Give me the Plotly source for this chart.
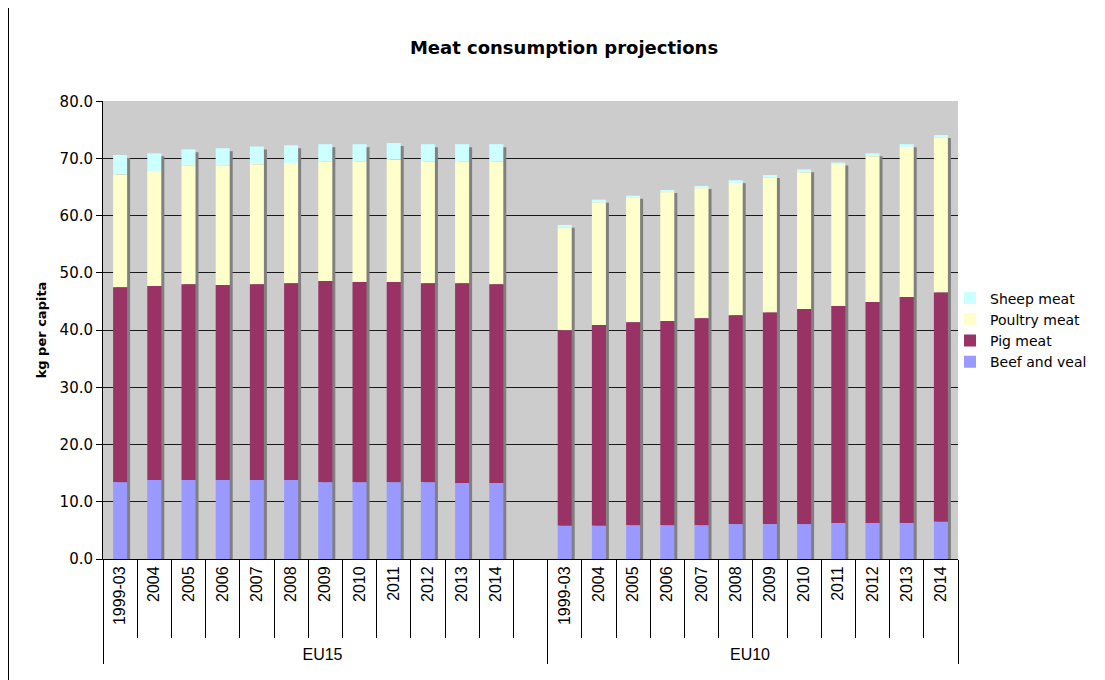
import plotly.graph_objects as go

years = ["1999-03", "2004", "2005", "2006", "2007", "2008",
         "2009", "2010", "2011", "2012", "2013", "2014"]
regions = ["EU15", "EU10"]
series_names = ["Beef and veal", "Pig meat", "Poultry meat", "Sheep meat"]

eu15_beef = [13.4, 13.8, 13.8, 13.8, 13.8, 13.8, 13.4, 13.4, 13.4, 13.4, 13.3, 13.3]
eu15_pig = [34.1, 33.9, 34.2, 34.1, 34.2, 34.4, 35.2, 35.0, 35.0, 34.8, 34.9, 34.7]
eu15_poultry = [19.7, 20.1, 20.7, 20.8, 21.0, 21.0, 20.9, 21.1, 21.4, 21.3, 21.3, 21.5]
eu15_sheep = [3.4, 3.1, 2.9, 3.1, 3.1, 3.1, 3.0, 3.0, 2.9, 3.0, 3.0, 3.0]

eu10_beef = [5.8, 5.8, 5.9, 5.9, 5.9, 6.1, 6.1, 6.1, 6.3, 6.3, 6.3, 6.5]
eu10_pig = [34.2, 35.1, 35.5, 35.7, 36.2, 36.5, 37.0, 37.6, 37.9, 38.6, 39.5, 40.1]
eu10_poultry = [17.9, 21.4, 21.7, 22.5, 22.7, 23.1, 23.6, 23.9, 24.8, 25.5, 26.2, 27.0]
eu10_sheep = [0.5, 0.5, 0.4, 0.4, 0.4, 0.5, 0.4, 0.5, 0.3, 0.5, 0.5, 0.5]

colors = ["#9999FF", "#993366", "#FFFFCC", "#CCFFFF"]
shadow_color = "#808080"

# x positions (multicategory) with an empty slot closing the EU15 group
NB = "\u00a0"
outer = [regions[0]] * (len(years) + 1) + [regions[1]] * len(years)
inner = [NB + y for y in years] + [NB] + [NB + y for y in years]
x = [outer, inner]

def joined(a, b):
    return list(a) + [None] + list(b)

series = [
    joined(eu15_beef, eu10_beef),
    joined(eu15_pig, eu10_pig),
    joined(eu15_poultry, eu10_poultry),
    joined(eu15_sheep, eu10_sheep),
]

# cumulative bases
bases = []
running = [0.0 if v is not None else None for v in series[0]]
for s in series:
    bases.append(list(running))
    running = [(r + v) if v is not None else None for r, v in zip(running, s)]
totals = running

BAR_W = 0.41
SH_DX = 0.088   # shadow shift right (category units)
SH_DY = 0.52    # shadow shift down (value units)

fig = go.Figure()
fig.add_trace(go.Bar(
    x=x, y=totals, base=[-SH_DY if t is not None else None for t in totals],
    width=BAR_W, offset=-BAR_W / 2 + SH_DX,
    marker=dict(color=shadow_color, line=dict(width=0)),
    showlegend=False, hoverinfo="skip"))

# add top series first so the legend lists Sheep meat at the top
for idx in reversed(range(len(series_names))):
    fig.add_trace(go.Bar(
        x=x, y=series[idx], base=bases[idx], name=series_names[idx],
        width=BAR_W, offset=-BAR_W / 2,
        marker=dict(color=colors[idx], line=dict(width=0))))

# the page body adds an 8px offset; plot area lands at (103..958, 101..559)
L, T, R, B = 95, 93, 1105 - 950, 680 - 551
fig.update_layout(
    width=1105, height=680,
    barmode="overlay",
    paper_bgcolor="white",
    plot_bgcolor="#CCCCCC",
    margin=dict(l=L, r=R, t=T, b=B, autoexpand=False),
    font=dict(family="DejaVu Sans", size=15, color="black"),
    title=dict(text="<b>Meat consumption projections</b>",
               font=dict(family="DejaVu Sans", size=18, color="black"),
               x=556 / 1105, xanchor="center", xref="container",
               y=1 - 40 / 680, yanchor="middle", yref="container"),
    legend=dict(x=(950 - 103) / 855, y=(559 - 330) / 458,
                xanchor="left", yanchor="middle",
                traceorder="normal",
                font=dict(family="DejaVu Sans", size=14),
                bgcolor="rgba(0,0,0,0)"),
    yaxis=dict(range=[0, 80.05], tickvals=[0, 10, 20, 30, 40, 50, 60, 70, 80],
               tickformat=".1f",
               showgrid=True, gridcolor="#1a1a1a", gridwidth=1,
               ticks="outside", ticklen=6, tickcolor="black",
               showline=True, linecolor="black", linewidth=1,
               zeroline=False, automargin=False,
               tickfont=dict(family="DejaVu Sans", size=15),
               title=dict(text="<b>kg per capita</b>", standoff=10,
                          font=dict(family="DejaVu Sans", size=13))),
    xaxis=dict(type="multicategory", tickangle=-90,
               ticks="outside", tickson="boundaries", ticklen=78,
               tickcolor="black", automargin=False,
               showdividers=True, dividercolor="black", dividerwidth=1,
               showline=True, linecolor="black", linewidth=1,
               showgrid=False,
               tickfont=dict(family="Liberation Sans", size=16)),
    shapes=[dict(type="line", xref="paper", yref="paper",
                 x0=(0.5 - L) / 855, x1=(0.5 - L) / 855,
                 y0=-1, y1=2,
                 line=dict(color="black", width=1))],
)

fig.write_html("out.html")
